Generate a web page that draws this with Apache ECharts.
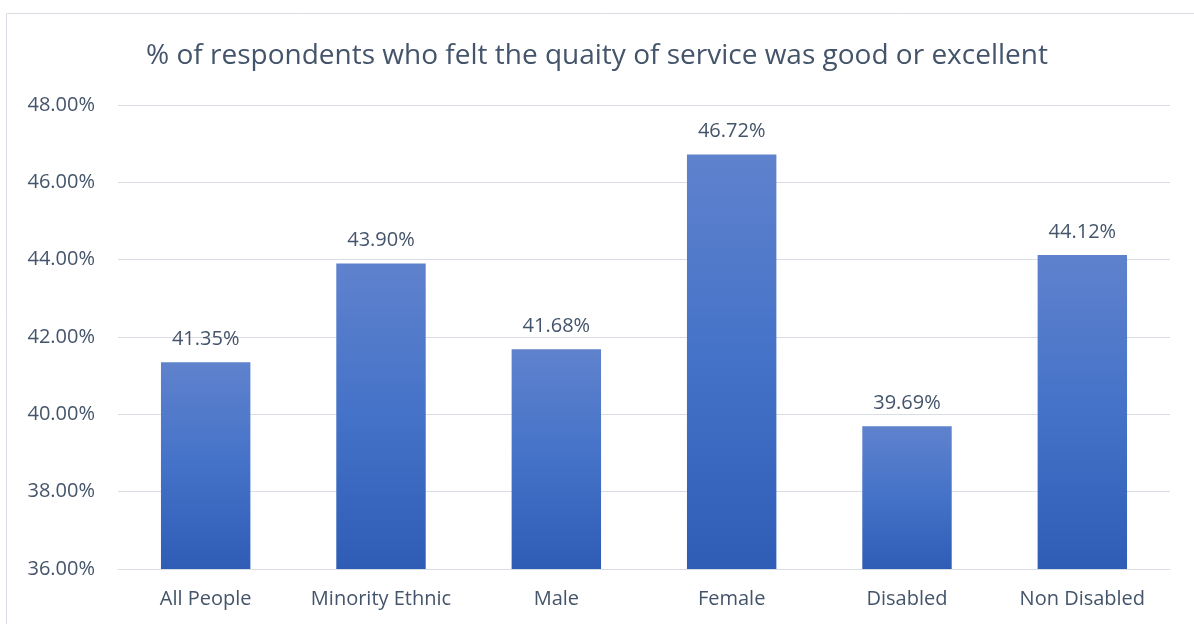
<!DOCTYPE html>
<html>
<head>
<meta charset="utf-8">
<script src="https://cdn.jsdelivr.net/npm/echarts@6/dist/echarts.min.js"></script>
<style>
  html, body { margin: 0; padding: 0; background: #fff; }
  #chart { width: 1194px; height: 624px; }
</style>
</head>
<body>
<div id="chart"></div>
<script>
const titleText = '% of respondents who felt the quaity of service was good or excellent';
const categories = ['All People', 'Minority Ethnic', 'Male', 'Female', 'Disabled', 'Non Disabled'];
const values = [41.35, 43.90, 41.68, 46.72, 39.69, 44.12];
const yMin = 36, yMax = 48, yStep = 2;

const textColor = '#44546a';
const fontFamily = '"Open Sans", "Noto Sans", sans-serif';

const chart = echarts.init(document.getElementById('chart'), null, { renderer: 'canvas' });
chart.setOption({
  backgroundColor: '#fff',
  animation: false,
  graphic: [{
    type: 'rect',
    shape: { x: 6.5, y: 13.5, width: 1200, height: 700 },
    style: { fill: 'none', stroke: '#d9dde3', lineWidth: 1 },
    silent: true
  }],
  title: {
    text: titleText,
    left: 'center',
    top: 37,
    textStyle: { color: textColor, fontSize: 28, fontWeight: 'normal', fontFamily: fontFamily }
  },
  grid: { left: 118, right: 24, top: 105, bottom: 55, containLabel: false },
  xAxis: {
    type: 'category',
    data: categories,
    axisLine: { show: true, lineStyle: { color: '#d9dde3', width: 1 } },
    axisTick: { show: false },
    axisLabel: { color: textColor, fontSize: 20, fontFamily: fontFamily, margin: 20, interval: 0 }
  },
  yAxis: {
    type: 'value',
    min: yMin, max: yMax, interval: yStep,
    axisLine: { show: false },
    axisTick: { show: false },
    splitLine: { lineStyle: { color: '#d9dde3', width: 1 } },
    axisLabel: {
      color: textColor, fontSize: 20, fontFamily: fontFamily, margin: 23,
      formatter: v => v.toFixed(2) + '%'
    }
  },
  series: [{
    type: 'bar',
    data: values,
    barWidth: '51%',
    itemStyle: {
      color: new echarts.graphic.LinearGradient(0, 0, 0, 1, [
        { offset: 0, color: '#5f82cd' },
        { offset: 0.5, color: '#4472c8' },
        { offset: 1, color: '#2f5db6' }
      ])
    },
    label: {
      show: true,
      position: 'top',
      distance: 13,
      color: textColor,
      fontSize: 20,
      fontFamily: fontFamily,
      formatter: p => p.value.toFixed(2) + '%'
    }
  }]
});
</script>
</body>
</html>
